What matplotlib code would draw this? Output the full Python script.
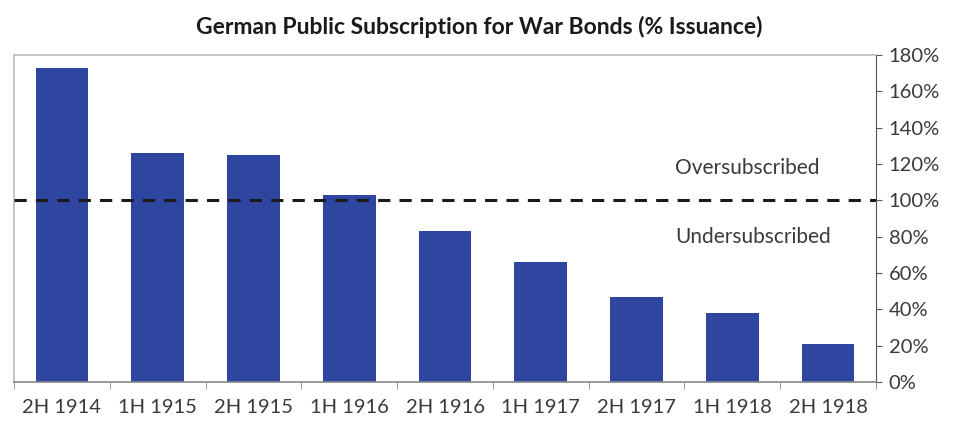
import matplotlib
matplotlib.use("Agg")
import matplotlib.pyplot as plt
import numpy as np

# data
periods = ["2H 1914", "1H 1915", "2H 1915", "1H 1916", "2H 1916",
           "1H 1917", "2H 1917", "1H 1918", "2H 1918"]
subscription_pct = [173, 126, 125, 103, 83, 66, 47, 38, 21]
yticks = [0, 20, 40, 60, 80, 100, 120, 140, 160, 180]

BAR_COLOR = "#2f46a0"
plt.rcParams["font.family"] = ["Lato", "DejaVu Sans"]

fig = plt.figure(figsize=(9.58, 4.21), dpi=100, facecolor="white")
ax = fig.add_axes([14 / 958, 1 - 382 / 421, 862 / 958, 327 / 421])

x = np.arange(len(periods))
ax.bar(x, subscription_pct, width=0.55, color=BAR_COLOR, zorder=2)
ax.axhline(100, color="#1a1a1a", lw=2.2, ls=(0, (4, 3)), zorder=3)

ax.set_xlim(-0.5, len(periods) - 0.5)
ax.set_ylim(0, 180)

ax.yaxis.tick_right()
ax.set_yticks(yticks)
ax.set_yticklabels([f"{v}%" for v in yticks], fontsize=14.5, color="#3a3a3a")
ax.tick_params(axis="y", length=4, color="#555555", pad=5)

ax.set_xticks(x)
ax.set_xticklabels(periods, fontsize=14.5, color="#3a3a3a")
ax.set_xticks(np.arange(len(periods) + 1) - 0.5, minor=True)
ax.tick_params(axis="x", which="major", length=0, pad=12)
ax.tick_params(axis="x", which="minor", length=5, color="#888888")

for side in ["top", "left"]:
    ax.spines[side].set_color("#bbbbbb")
    ax.spines[side].set_linewidth(1.2)
ax.spines["right"].set_color("#555555")
ax.spines["bottom"].set_color("#888888")
ax.spines["bottom"].set_linewidth(1.2)

ax.text(6.4, 118, "Oversubscribed", fontsize=15, color="#3a3a3a", va="center")
ax.text(6.4, 80, "Undersubscribed", fontsize=15, color="#3a3a3a", va="center")

fig.text(0.5, 1 - 27 / 421, "German Public Subscription for War Bonds (% Issuance)",
         ha="center", va="center", fontsize=16.5, fontweight="bold", color="#1a1a1a")

fig.savefig("out.png", dpi=100, facecolor="white")
